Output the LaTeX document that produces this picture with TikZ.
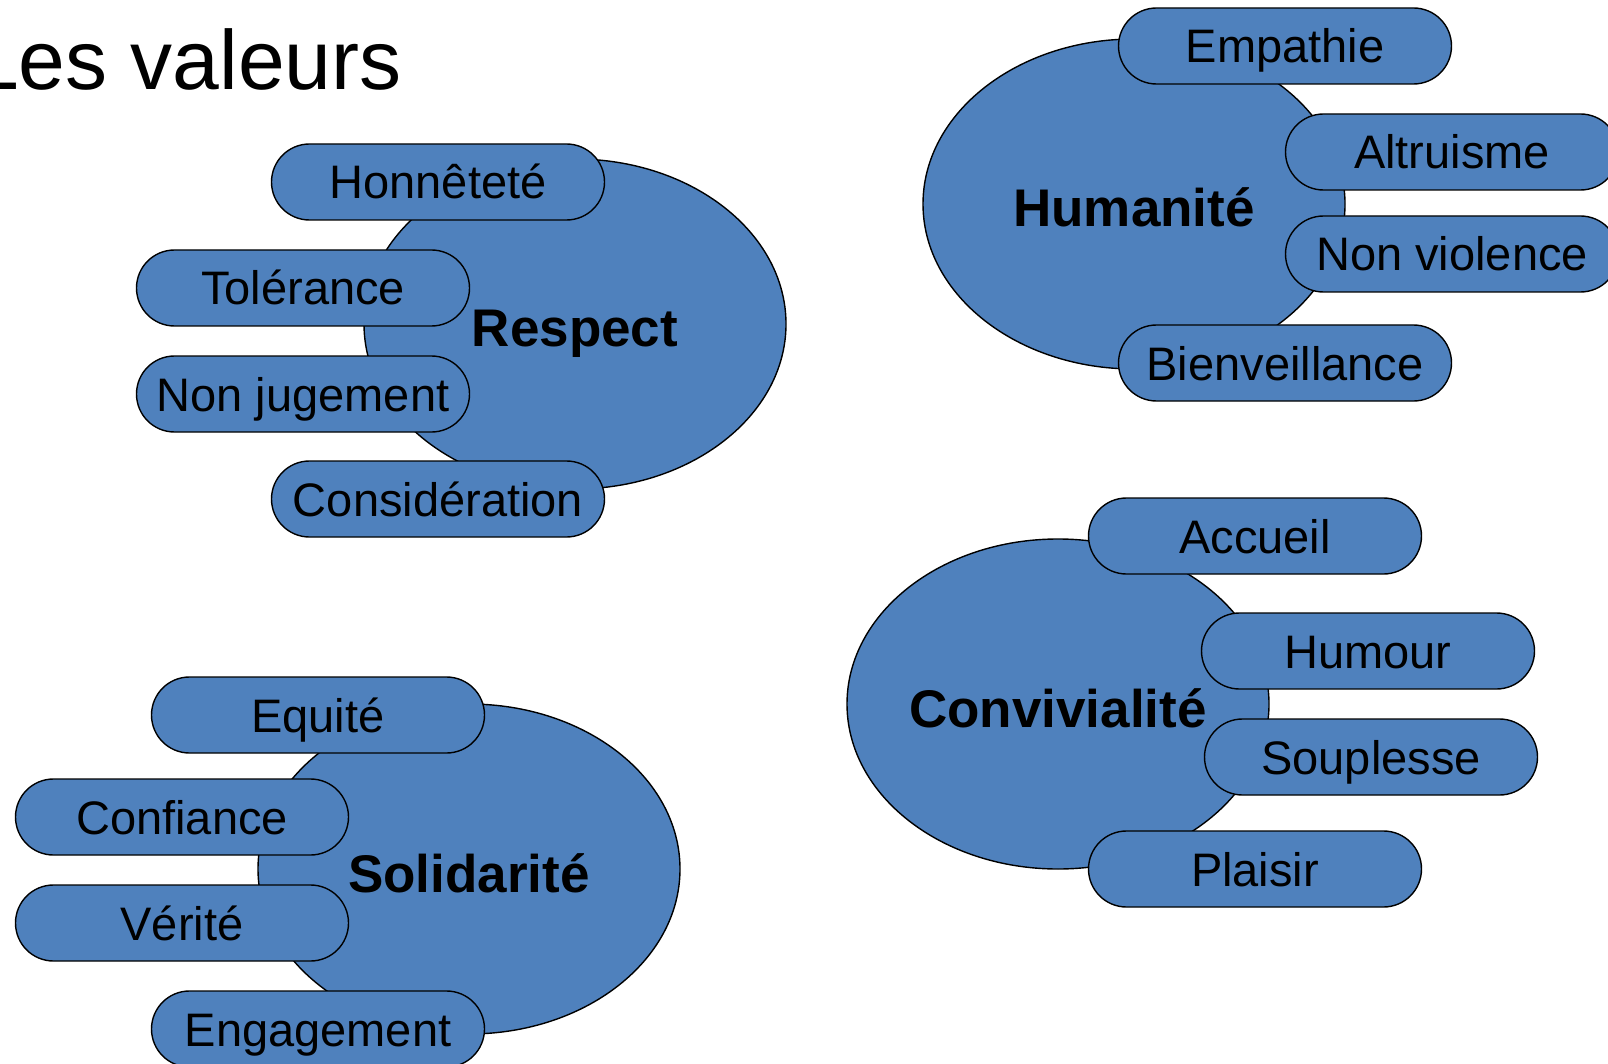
\documentclass[tikz,border=0pt]{standalone}
\usepackage{fontspec}
\setmainfont{Liberation Sans}
\usetikzlibrary{shapes.geometric}
\usetikzlibrary{shapes.misc}

\definecolor{valblue}{HTML}{4F81BD}

\begin{document}
\begin{tikzpicture}[x=1pt, y=-1pt,
    hub/.style={ellipse, draw=black, line width=1.4pt, fill=valblue,
      minimum width=422pt, minimum height=330pt, inner sep=0pt,
      font=\fontsize{53}{60}\selectfont\bfseries, text height=46pt, text depth=0pt},
    pill/.style={rounded rectangle, draw=black, line width=1.4pt, fill=valblue,
      minimum width=333pt, minimum height=76pt, inner sep=0pt,
      font=\fontsize{47}{56}\selectfont, text height=34pt, text depth=0pt},
    title/.style={font=\fontsize{84}{100}\selectfont, inner sep=0pt}]
                \useasboundingbox (0,0) rectangle (1608,1064);
                \clip (0,0) rectangle (1608,1064);

                \node[title, anchor=base west] (titre) at (-28,90) {Les valeurs};

                % Respect
                \node[hub] (respect) at (575,324) {Respect};
                \node[pill] (honnetete) at (438,182) {Honnêteté};
                \node[pill] (tolerance) at (303,288) {Tolérance};
                \node[pill] (nonjugement) at (303,394) {Non jugement};
                \node[pill] (consideration) at (438,499) {Considération};

                % Humanite
                \node[hub] (humanite) at (1134,204) {Humanité};
                \node[pill] (empathie) at (1285,46) {Empathie};
                \node[pill] (altruisme) at (1452,152) {Altruisme};
                \node[pill] (nonviolence) at (1452,254) {Non violence};
                \node[pill] (bienveillance) at (1285,363) {Bienveillance};

                % Convivialite
                \node[hub] (convivialite) at (1058,704) {Convivialité};
                \node[pill] (accueil) at (1255,536) {Accueil};
                \node[pill] (humour) at (1368,651) {Humour};
                \node[pill] (souplesse) at (1371,757) {Souplesse};
                \node[pill] (plaisir) at (1255,869) {Plaisir};

                % Solidarite
                \node[hub] (solidarite) at (469,869) {Solidarité};
                \node[pill] (equite) at (318,715) {Equité};
                \node[pill] (confiance) at (182,817) {Confiance};
                \node[pill] (verite) at (182,923) {Vérité};
                \node[pill] (engagement) at (318,1029) {Engagement};
            \end{tikzpicture}
\end{document}
